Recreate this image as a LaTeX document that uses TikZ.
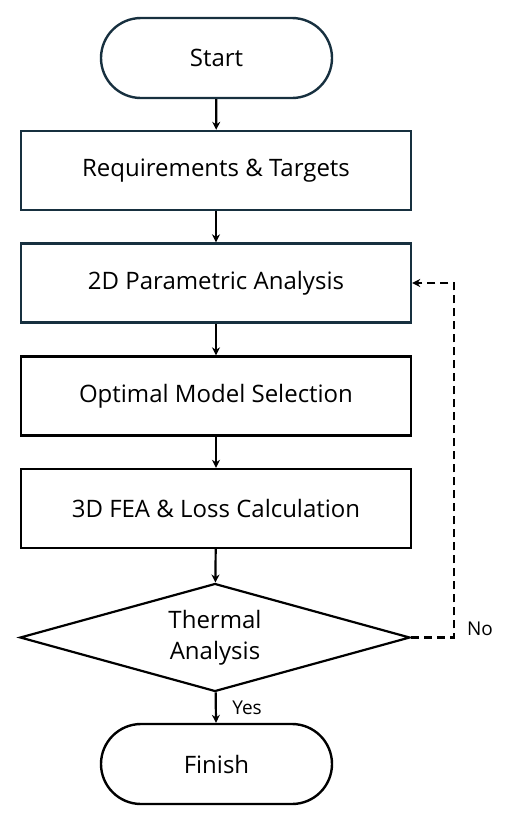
\documentclass[tikz,border=0pt]{standalone}
\usepackage{fontspec}
\setmainfont{Open Sans}
\usetikzlibrary{shapes.geometric,arrows.meta}
\definecolor{navy}{HTML}{17303F}
\tikzset{
  x=1pt, y=1pt,
  base/.style={draw, line width=2.4pt, font=\fontsize{24}{31}\selectfont, align=center, inner sep=0pt},
  pill/.style={base, minimum width=231pt, minimum height=80pt, rounded corners=40pt},
  stepbox/.style={base, minimum width=390pt, minimum height=79pt},
  decision/.style={base, line width=2.2pt, diamond, aspect=3.61, minimum width=390pt, minimum height=108pt},
  arrow/.style={line width=2.2pt, -{Stealth[length=8pt,width=8pt]}},
  dasharrow/.style={line width=2.2pt, dash pattern=on 8pt off 5pt, -{Stealth[length=8pt,width=8pt]}},
  lbl/.style={font=\fontsize{19}{22}\selectfont, inner sep=0pt}
}
\begin{document}
\begin{tikzpicture}
\useasboundingbox (0,0) rectangle (510,-823);
\node[pill, draw=navy] (start) at (216.5,-58) {Start};
\node[stepbox, draw=navy] (req) at (216,-170.5) {Requirements \& Targets};
\node[stepbox, draw=navy] (p2d) at (216,-283) {2D Parametric Analysis};
\node[stepbox] (opt) at (216,-396) {Optimal Model Selection};
\node[stepbox] (fea) at (216,-508.5) {3D FEA \& Loss Calculation};
\node[decision] (dec) at (215,-637.5) {Thermal\\Analysis};
\node[pill] (fin) at (216.5,-764) {Finish};
\coordinate (turn) at (454,-283);
\node[lbl] (no) at (480,-629) {No};
\node[lbl] (yes) at (247,-708) {Yes};
\draw[arrow] (start) -- (req);
\draw[arrow] (req) -- (p2d);
\draw[arrow] (p2d) -- (opt);
\draw[arrow] (opt) -- (fea);
\draw[arrow] (fea) -- (dec);
\draw[arrow] (dec) -- (fin);
\draw[dasharrow] (dec.east) -| (turn) -- (p2d.east);
\end{tikzpicture}
\end{document}
